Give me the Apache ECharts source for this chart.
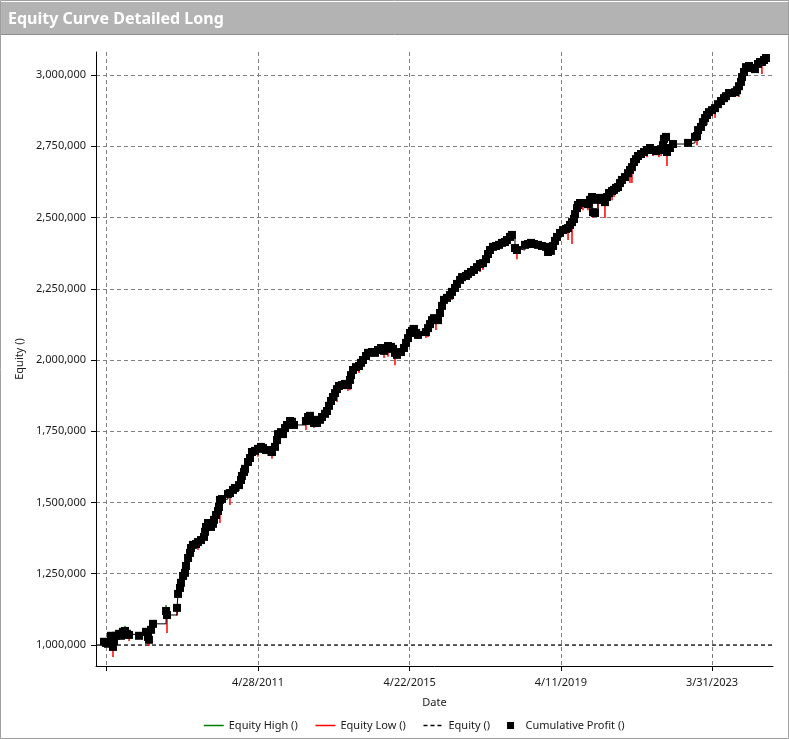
<!DOCTYPE html>
<html>
<head>
<meta charset="utf-8">
<title>Equity Curve Detailed Long</title>
<script src="https://cdn.jsdelivr.net/npm/echarts@6/dist/echarts.min.js"></script>
<style>
  html, body { margin: 0; padding: 0; background: #fff; }
  #chart { width: 789px; height: 739px; }
</style>
</head>
<body>
<div id="chart"></div>
<script>
// trade dates as OLE serial days (days since 12/30/1899)
const dates = [
  39184, 39203, 39222, 39251, 39261, 39270, 39280, 39299, 39328, 39347,
  39366, 39385, 39404, 39424, 39520, 39587, 39606, 39615, 39635, 39654,
  39779, 39788, 39884, 39894, 39913, 39922, 39942, 39961, 39970, 39990,
  40009, 40018, 40037, 40066, 40085, 40114, 40143, 40153, 40162, 40181,
  40210, 40229, 40239, 40258, 40277, 40287, 40296, 40316, 40373, 40392,
  40421, 40440, 40479, 40498, 40507, 40527, 40536, 40565, 40584, 40603,
  40632, 40661, 40690, 40709, 40738, 40757, 40795, 40824, 40843, 40853,
  40882, 40901, 40920, 40939, 40968, 40987, 41006, 41121, 41141, 41160,
  41179, 41198, 41227, 41256, 41275, 41304, 41323, 41342, 41361, 41380,
  41400, 41419, 41438, 41467, 41495, 41524, 41543, 41553, 41572, 41601,
  41630, 41649, 41668, 41697, 41716, 41754, 41783, 41812, 41841, 41870,
  41889, 41908, 41937, 41956, 41975, 41994, 42033, 42061, 42081, 42100,
  42119, 42138, 42157, 42177, 42196, 42272, 42292, 42311, 42330, 42349,
  42368, 42388, 42407, 42426, 42445, 42474, 42503, 42522, 42551, 42570,
  42599, 42618, 42656, 42675, 42704, 42733, 42762, 42790, 42819, 42848,
  42867, 42886, 42915, 42944, 42973, 43001, 43030, 43049, 43078, 43097,
  43126, 43145, 43222, 43251, 43280, 43308, 43347, 43385, 43424, 43443,
  43471, 43491, 43510, 43529, 43558, 43587, 43615, 43635, 43654, 43673,
  43692, 43702, 43721, 43730, 43750, 43778, 43807, 43826, 43846, 43865,
  43874, 43893, 43922, 43941, 43970, 43989, 44009, 44028, 44057, 44076,
  44095, 44114, 44133, 44152, 44181, 44210, 44229, 44248, 44268, 44287,
  44306, 44335, 44364, 44392, 44421, 44450, 44479, 44507, 44527, 44546,
  44555, 44575, 44584, 44613, 44642, 44786, 44853, 44872, 44882, 44910,
  44929, 44949, 44968, 44987, 45016, 45045, 45073, 45102, 45131, 45150,
  45179, 45208, 45236, 45256, 45275, 45294, 45304, 45323, 45342, 45371,
  45399, 45428, 45457, 45476, 45495, 45515, 45534
];

const profit = [
  1011000, 1007000, 1004000, 1032000, 1018000, 993000, 1014000, 1032000, 1039000, 1032000,
  1046000, 1049000, 1039000, 1035000, 1032000, 1046000, 1028000, 1018000, 1053000, 1074000,
  1119000, 1105000, 1130000, 1179000, 1200000, 1218000, 1242000, 1253000, 1277000, 1305000,
  1323000, 1340000, 1351000, 1354000, 1361000, 1368000, 1379000, 1397000, 1414000, 1428000,
  1414000, 1425000, 1439000, 1456000, 1470000, 1484000, 1509000, 1512000, 1530000, 1533000,
  1544000, 1551000, 1561000, 1579000, 1593000, 1607000, 1618000, 1642000, 1656000, 1677000,
  1681000, 1688000, 1695000, 1691000, 1684000, 1684000, 1677000, 1695000, 1719000, 1740000,
  1747000, 1740000, 1761000, 1772000, 1786000, 1783000, 1772000, 1786000, 1800000, 1804000,
  1790000, 1779000, 1779000, 1790000, 1800000, 1811000, 1821000, 1839000, 1856000, 1870000,
  1884000, 1898000, 1909000, 1912000, 1916000, 1912000, 1930000, 1947000, 1965000, 1975000,
  1979000, 1990000, 2000000, 2014000, 2025000, 2028000, 2025000, 2035000, 2042000, 2032000,
  2039000, 2049000, 2046000, 2039000, 2025000, 2018000, 2028000, 2042000, 2060000, 2077000,
  2095000, 2102000, 2109000, 2095000, 2088000, 2098000, 2112000, 2126000, 2140000, 2147000,
  2144000, 2140000, 2165000, 2190000, 2211000, 2218000, 2228000, 2239000, 2253000, 2267000,
  2281000, 2291000, 2295000, 2302000, 2309000, 2316000, 2326000, 2337000, 2340000, 2354000,
  2372000, 2386000, 2397000, 2400000, 2404000, 2411000, 2414000, 2421000, 2432000, 2439000,
  2393000, 2386000, 2404000, 2407000, 2411000, 2407000, 2404000, 2400000, 2397000, 2379000,
  2383000, 2400000, 2418000, 2432000, 2446000, 2456000, 2460000, 2463000, 2474000, 2484000,
  2495000, 2512000, 2533000, 2544000, 2551000, 2551000, 2551000, 2547000, 2562000, 2572000,
  2519000, 2516000, 2562000, 2569000, 2562000, 2554000, 2572000, 2586000, 2593000, 2597000,
  2604000, 2607000, 2621000, 2632000, 2642000, 2656000, 2667000, 2677000, 2695000, 2705000,
  2716000, 2723000, 2730000, 2737000, 2744000, 2737000, 2733000, 2737000, 2740000, 2754000,
  2776000, 2783000, 2730000, 2744000, 2758000, 2762000, 2783000, 2786000, 2807000, 2818000,
  2835000, 2849000, 2860000, 2870000, 2877000, 2884000, 2898000, 2909000, 2919000, 2926000,
  2937000, 2937000, 2940000, 2947000, 2961000, 2976000, 2993000, 3011000, 3028000, 3032000,
  3025000, 3021000, 3039000, 3046000, 3046000, 3053000, 3060000
];

// intra-trade lows / highs (only where visible)
const lowDates = [
  39270, 39424, 39615, 39788, 39884, 39922, 39990, 40085, 40296, 40392,
  40479, 40661, 40757, 40795, 40853, 41121, 41198, 41419, 41524, 41543,
  41601, 41630, 41870, 41908, 41975, 42196, 42272, 42292, 42368, 42503,
  42522, 42675, 42790, 42819, 43145, 43443, 43491, 43635, 43673, 43778,
  43826, 43874, 43922, 43989, 44057, 44076, 44152, 44229, 44248, 44306,
  44392, 44450, 44507, 44527, 44584, 44872, 44968, 45045, 45236, 45275,
  45428, 45495
];
const lowValues = [
  958000, 1014000, 996000, 1042000, 1102000, 1182000, 1270000, 1333000, 1428000, 1491000,
  1540000, 1660000, 1663000, 1653000, 1691000, 1754000, 1761000, 1853000, 1891000, 1895000,
  1954000, 1954000, 2007000, 2011000, 1982000, 2074000, 2077000, 2081000, 2105000, 2207000,
  2211000, 2288000, 2309000, 2316000, 2354000, 2365000, 2386000, 2421000, 2407000, 2526000,
  2526000, 2498000, 2509000, 2498000, 2561000, 2572000, 2611000, 2621000, 2621000, 2691000,
  2712000, 2716000, 2712000, 2716000, 2681000, 2754000, 2825000, 2849000, 2926000, 2923000,
  3011000, 3004000
];
const highDates = [39385, 39779, 40316, 43097, 44575];
const highValues = [1067000, 1140000, 1523000, 2446000, 2790000];

const startEquity = 1000000;

const xTicks = [39206, 40661, 42116, 43566, 45016];
const xLabelTicks = [40661, 42116, 43566, 45016];
const yTicks = [1000000, 1250000, 1500000, 1750000, 2000000, 2250000, 2500000, 2750000, 3000000];

const xMin = 39107, xMax = 45601;
const yMin = 926000, yMax = 3081000;

const font = "'Segoe UI', 'Noto Sans', sans-serif";
const textColor = '#1a1a1a';
const lowColor = '#ff0000';
const highColor = '#008000';
// zero-area symbol: keeps legend icons as plain lines
const lineOnlySymbol = 'path://M0,0L1,1';

function serialToText(v) {
  const d = new Date(Date.UTC(1899, 11, 30) + Math.round(v) * 86400000);
  return (d.getUTCMonth() + 1) + '/' + d.getUTCDate() + '/' + d.getUTCFullYear();
}

function spike(color) {
  return function (params, api) {
    const p0 = api.coord([api.value(0), api.value(1)]);
    const p1 = api.coord([api.value(0), api.value(2)]);
    return {
      type: 'line',
      shape: { x1: p0[0], y1: p0[1], x2: p1[0], y2: p1[1] },
      style: { stroke: color, lineWidth: 1.5 }
    };
  };
}

const lowData = lowDates.map((d, i) => [d, profit[dates.indexOf(d)], lowValues[i]]);
const highData = highDates.map((d, i) => [d, profit[dates.indexOf(d)], highValues[i]]);
const profitData = dates.map((d, i) => [d, profit[i]]);

const squareIcon = 'path://M0,0H1V1H0Z';

const chart = echarts.init(document.getElementById('chart'), null, { renderer: 'canvas' });

chart.setOption({
  animation: false,
  backgroundColor: '#fff',
  graphic: [
    { type: 'rect', silent: true, shape: { x: 0.5, y: 0.5, width: 788, height: 738 },
      style: { fill: 'none', stroke: '#a0a0a0', lineWidth: 1 } },
    { type: 'rect', silent: true, shape: { x: 1, y: 2, width: 787, height: 32 },
      style: { fill: '#b3b3b3' } },
    { type: 'line', silent: true, shape: { x1: 1, y1: 34.5, x2: 788, y2: 34.5 },
      style: { stroke: '#8c8c8c', lineWidth: 1 } },
    { type: 'text', silent: true, x: 8, y: 19,
      style: { text: 'Equity Curve Detailed Long', font: "bold 16px 'Noto Sans'", fill: '#fff',
               verticalAlign: 'middle' } }
  ],
  grid: { left: 96, top: 52, width: 677, height: 614, containLabel: false, outerBoundsMode: 'none' },
  legend: {
    left: 198, top: 715,
    itemWidth: 20, itemHeight: 7, itemGap: 17,
    itemStyle: { borderWidth: 0 },
    lineStyle: { width: 1.5 },
    textStyle: { fontSize: 11, color: textColor, fontFamily: font },
    data: [
      { name: 'Equity High ()' },
      { name: 'Equity Low ()' },
      { name: 'Equity ()' },
      { name: 'Cumulative Profit ()', icon: squareIcon }
    ]
  },
  xAxis: {
    type: 'value', min: xMin, max: xMax,
    name: 'Date', nameLocation: 'middle', nameGap: 31,
    nameTextStyle: { fontSize: 11, color: textColor, fontFamily: font },
    axisLine: { show: true, onZero: false, lineStyle: { color: '#000', width: 1 } },
    axisTick: { show: true, customValues: xTicks, length: 5, lineStyle: { color: '#000' } },
    axisLabel: { customValues: xLabelTicks, formatter: serialToText, margin: 11,
                 fontSize: 11, color: textColor, fontFamily: font },
    splitLine: { show: true, lineStyle: { color: '#808080', width: 1, type: [4, 3] } }
  },
  yAxis: {
    type: 'value', min: yMin, max: yMax,
    name: 'Equity ()', nameLocation: 'middle', nameGap: 62,
    nameTextStyle: { fontSize: 11, color: textColor, fontFamily: font },
    axisLine: { show: true, onZero: false, lineStyle: { color: '#000', width: 1 } },
    axisTick: { show: true, customValues: yTicks, length: 5, lineStyle: { color: '#000' } },
    axisLabel: { customValues: yTicks, formatter: v => Math.round(v).toLocaleString('en-US'),
                 margin: 10, fontSize: 11, color: textColor, fontFamily: font },
    splitLine: { show: true, lineStyle: { color: '#808080', width: 1, type: [4, 3] } }
  },
  series: [
    // legend carriers for the high / low lines
    { name: 'Equity High ()', type: 'line', color: highColor, data: [],
      symbol: lineOnlySymbol, showSymbol: false,
      itemStyle: { color: highColor, borderWidth: 0 }, lineStyle: { color: highColor, width: 1 } },
    { name: 'Equity Low ()', type: 'line', color: lowColor, data: [],
      symbol: lineOnlySymbol, showSymbol: false,
      itemStyle: { color: lowColor, borderWidth: 0 }, lineStyle: { color: lowColor, width: 1 } },
    {
      name: 'Equity ()', type: 'line', color: '#000', silent: true,
      data: [[xMin, startEquity], [xMax, startEquity]],
      symbol: lineOnlySymbol, showSymbol: false, z: 1,
      itemStyle: { color: '#000', borderWidth: 0 },
      lineStyle: { color: '#000', width: 1, type: [4, 3] }
    },
    {
      name: 'Equity Low ()', type: 'custom', color: lowColor, z: 2,
      renderItem: spike(lowColor), encode: { x: 0, y: [1, 2] }, data: lowData
    },
    {
      name: 'Equity High ()', type: 'custom', color: highColor, z: 2,
      renderItem: spike(highColor), encode: { x: 0, y: [1, 2] }, data: highData
    },
    {
      name: 'Cumulative Profit ()', type: 'line', color: '#000', z: 3,
      step: 'end', data: profitData,
      symbol: 'rect', symbolSize: 8, showAllSymbol: true,
      itemStyle: { color: '#000', borderWidth: 0 },
      lineStyle: { color: '#000', width: 1 }
    }
  ]
});
</script>
</body>
</html>
